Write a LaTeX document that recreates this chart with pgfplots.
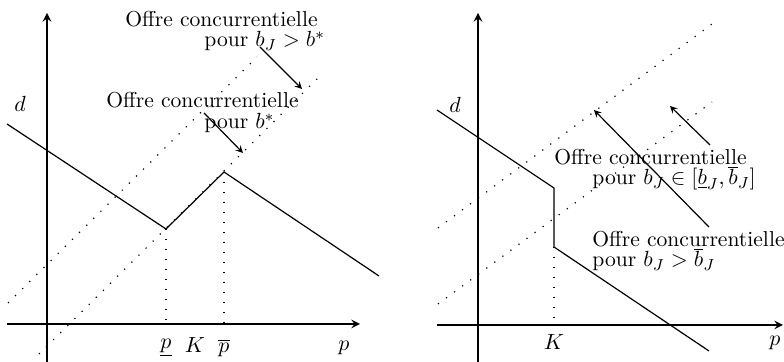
\documentclass[border=0pt]{standalone}
\usepackage{pgfplots}
\pgfplotsset{compat=1.18}
\begin{document}
\fontsize{10.8}{13}\selectfont
\begin{tikzpicture}
\tikzset{lab/.style={inner sep=0pt}}
\pgfplotsset{
 panel/.style={hide axis, scale only axis, width=196pt, height=181pt, clip=false, anchor=south west},
 dem/.style={black, line width=0.6pt, no markers},
 dots/.style={black, line width=0.6pt, dash pattern=on 0.6pt off 4.4pt, no markers},
 ax/.style={black, line width=0.9pt, -stealth, no markers},
 arr/.style={black, line width=0.6pt, -stealth, no markers},
}
% ---------------- left panel ----------------
\begin{axis}[panel, name=L, at={(0,0)}, xmin=-47, xmax=345, ymin=-38, ymax=324]
\addplot[ax] coordinates {(-40,0) (313,0)};
\addplot[ax] coordinates {(0,-38) (0,311)};
\addplot[dots] coordinates {(-39,21) (210,267)};
\addplot[dots] coordinates {(-8,-30) (275,250)};
\addplot[dots] coordinates {(119,95) (119,0)};
\addplot[dots] coordinates {(177,152) (177,0)};
\addplot[dem] coordinates {(-40,200) (119,95) (177,152) (332,48)};
\addplot[arr] coordinates {(213,277) (255,235)};
\addplot[arr] coordinates {(157,211) (196,171)};
\node[lab, anchor=base west] at (axis cs:78,297) {Offre concurrentielle};
\node[lab, anchor=base west] at (axis cs:157,277) {pour $b_J > b^{*}$};
\node[lab, anchor=base west] at (axis cs:59,216) {Offre concurrentielle};
\node[lab, anchor=base west] at (axis cs:157,195) {pour $b^{*}$};
\node[lab] at (axis cs:-27,220) {$d$};
\node[lab] at (axis cs:119,-24) {$\underline{p}$};
\node[lab] at (axis cs:148,-21) {$K$};
\node[lab] at (axis cs:177,-24) {$\overline{p}$};
\node[lab] at (axis cs:297,-24) {$p$};
\end{axis}
% ---------------- right panel ----------------
\begin{axis}[panel, name=R, at={(196pt,0)}, xmin=-86, xmax=306, ymin=-37, ymax=325]
\addplot[ax] coordinates {(-41,0) (305,0)};
\addplot[ax] coordinates {(0,-37) (0,312)};
\addplot[dots] coordinates {(-40,97) (234,301)};
\addplot[dots] coordinates {(-40,21) (234,223)};
\addplot[dots] coordinates {(76,78) (76,0)};
\addplot[dem] coordinates {(-41,215) (76,137) (76,78) (231,-26)};
\addplot[arr] coordinates {(231,98) (116,215)};
\addplot[arr] coordinates {(232,180) (192,219)};
\node[lab, anchor=base west] at (axis cs:76,160) {Offre concurrentielle};
\node[lab, anchor=base west] at (axis cs:114,140) {pour $b_J \in [\underline{b}_J, \overline{b}_J]$};
\node[lab, anchor=base west] at (axis cs:114,78) {Offre concurrentielle};
\node[lab, anchor=base west] at (axis cs:114,58) {pour $b_J > \overline{b}_J$};
\node[lab] at (axis cs:-23,220) {$d$};
\node[lab] at (axis cs:76,-17) {$K$};
\node[lab] at (axis cs:297,-18) {$p$};
\end{axis}
\pgfresetboundingbox
\path (L.south west) rectangle (R.north east);
\end{tikzpicture}
\end{document}
